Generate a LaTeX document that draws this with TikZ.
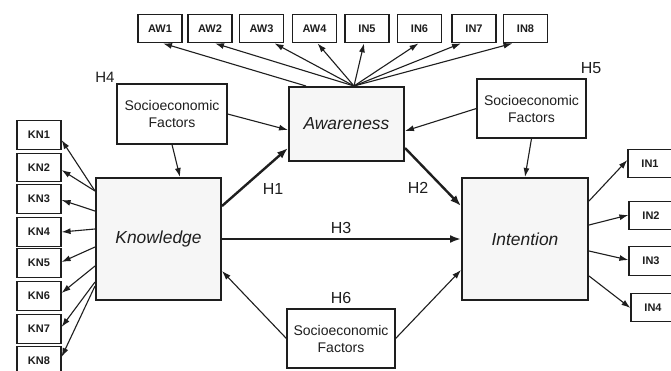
\documentclass[tikz,border=0pt]{standalone}
\usepackage{fontspec}
\setmainfont{Liberation Sans}
\usetikzlibrary{arrows.meta,calc}
\definecolor{ink}{HTML}{1E1E1E}
\definecolor{boxfill}{HTML}{F6F6F6}
\begin{document}
\begin{tikzpicture}[x=1pt,y=-1pt,
  item/.style={draw=ink,line width=1.2pt,fill=white,minimum width=44pt,minimum height=28.5pt,inner sep=0pt,font=\fontsize{11}{12}\selectfont\bfseries,text=ink},
  construct/.style={draw=ink,line width=2pt,fill=boxfill,inner sep=0pt,font=\fontsize{17.4}{20}\selectfont\itshape,text=ink},
  sefac/.style={draw=ink,line width=1.2pt,fill=white,inner sep=0pt,align=center,font=\fontsize{14}{17}\selectfont,text=ink},
  hlab/.style={inner sep=0pt,font=\fontsize{16}{18}\selectfont,text=ink},
  thinarr/.style={draw=ink,line width=1.1pt,-{Latex[length=9pt,width=6pt]}},
  thickarr/.style={draw=ink,line width=2.4pt,-{Latex[length=11pt,width=8pt]}}]
\useasboundingbox (0,0) rectangle (671,370);
\clip (0,0) rectangle (671,370);
\fill[white] (0,0) rectangle (671,370);

% main constructs
\node[construct,minimum width=115pt,minimum height=74pt] (aw) at (346.5,124) {Awareness};
\node[construct,minimum width=125pt,minimum height=122pt] (know) at (158.5,239) {Knowledge};
\node[construct,minimum width=126pt,minimum height=122pt] (int) at (525,239) {Intention};

% socioeconomic factors
\node[sefac,minimum width=110pt,minimum height=60pt] (se4) at (172,114) {Socioeconomic\\Factors};
\node[sefac,minimum width=109pt,minimum height=59pt] (se5) at (531.5,108.5) {Socioeconomic\\Factors};
\node[sefac,minimum width=108pt,minimum height=59pt] (se6) at (341,338.5) {Socioeconomic\\Factors};

% hypothesis labels
\node[hlab,font=\fontsize{15}{17}\selectfont] (h4) at (105,77) {H4};
\node[hlab] (h1) at (273,189) {H1};
\node[hlab] (h2) at (418,188) {H2};
\node[hlab] (h3) at (341,228) {H3};
\node[hlab] (h6) at (341,298) {H6};
\node[hlab] (h5) at (591,68) {H5};

% top indicator boxes
\foreach \n/\t/\x in {aw1/AW1/160, aw2/AW2/210, aw3/AW3/261.5, aw4/AW4/314.5, in5/IN5/367, in6/IN6/419.5, in7/IN7/474, in8/IN8/525.5}
  \node[item] (\n) at (\x,28.5) {\t};

% knowledge indicators
\foreach \i/\y in {1/135,2/167.5,3/199,4/232,5/263,6/296,7/329,8/361}
  \node[item] (kn\i) at (39,\y) {KN\i};

% intention indicators
\node[item] (in1) at (650,163.5) {IN1};
\node[item] (in2) at (651,215.5) {IN2};
\node[item] (in3) at (651,261) {IN3};
\node[item] (in4) at (653,307.5) {IN4};

% awareness fan
\coordinate (fan) at ($(aw.north west)+(66,0)$);
\draw[thinarr] ($(aw.north west)+(18,0)$) -- ([xshift=3pt]aw1.south);
\draw[thinarr] (fan) -- ([xshift=5pt]aw2.south);
\draw[thinarr] (fan) -- ([xshift=13pt]aw3.south);
\draw[thinarr] (fan) -- ([xshift=3pt]aw4.south);
\draw[thinarr] (fan) -- ([xshift=-3pt]in5.south);
\draw[thinarr] (fan) -- ([xshift=-1pt]in6.south);
\draw[thinarr] (fan) -- ([xshift=-13pt]in7.south);
\draw[thinarr] (fan) -- ([xshift=-13pt]in8.south);

% knowledge fan
\foreach \i/\s/\t in {1/14/5, 2/14/2.5, 3/34/1, 4/52/0, 5/70/-1, 6/89/-3, 7/105/-2, 8/109/-4}
  \draw[thinarr] ($(know.north west)+(0,\s)$) -- ($(kn\i.east)+(0,\t)$);

% intention fan
\draw[thinarr] ($(int.north east)+(0,24)$) -- ($(in1.west)+(0,-3.5)$);
\draw[thinarr] ($(int.north east)+(0,48)$) -- ($(in2.west)+(0,-0.5)$);
\draw[thinarr] ($(int.north east)+(0,74)$) -- ($(in3.west)+(0,-1)$);
\draw[thinarr] ($(int.north east)+(0,99)$) -- ($(in4.west)+(0,0.5)$);

% socioeconomic arrows
\draw[thinarr] (se4.south) -- ($(know.north)+(21.5,0)$);
\draw[thinarr] (se4.east) -- ($(aw.west)+(0,6)$);
\draw[thinarr] (se5.west) -- ($(aw.east)+(0,7)$);
\draw[thinarr] (se5.south) -- (int.north);
\draw[thinarr] (se6.west) -- ($(know.east)+(0,32)$);
\draw[thinarr] (se6.east) -- ($(int.west)+(0,31)$);

% hypotheses
\draw[thickarr] ($(know.north east)+(0,29)$) -- ($(aw.south west)+(0,-14)$);
\draw[thickarr] ($(aw.south east)+(0,-14)$) -- ($(int.north west)+(0,29)$);
\draw[thickarr] (know.east) -- (int.west);
\end{tikzpicture}
\end{document}
